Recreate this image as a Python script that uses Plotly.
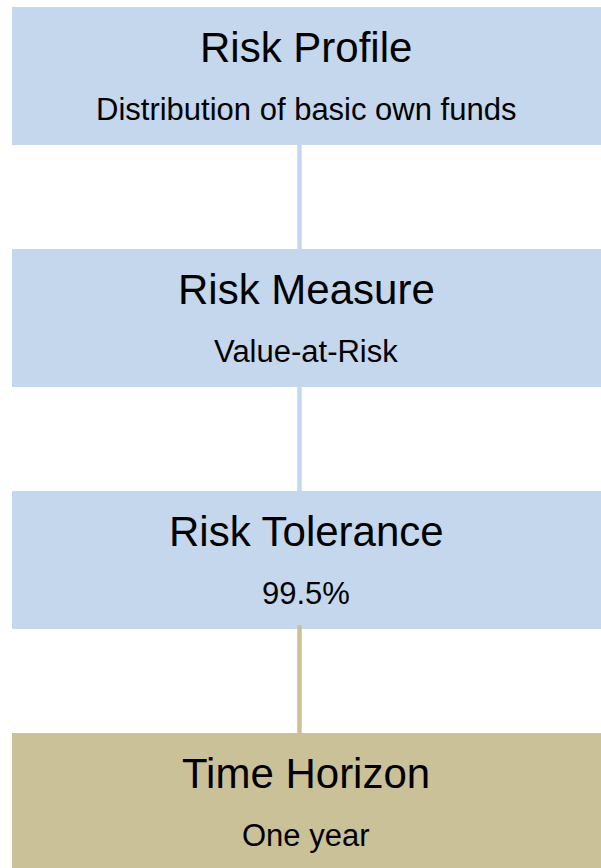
import plotly.graph_objects as go

# ---- data ----
titles = ["Risk Profile", "Risk Measure", "Risk Tolerance", "Time Horizon"]
subtitles = ["Distribution of basic own funds", "Value-at-Risk", "99.5%", "One year"]
box_colors = ["#C5D7EC", "#C5D7EC", "#C5D7EC", "#CBC199"]
connector_colors = ["#C5D7EC", "#C5D7EC", "#CBC199"]

# ---- layout constants ----
W, H = 601, 868
x0, x1 = 12, 601
top0, pitch, box_h = 7, 242, 138
title_dy, sub_dy = 40, 102
line_x = 299.5
text_x = 306

fig = go.Figure()
shapes = []
annotations = []
font_family = "Liberation Sans, Arial, sans-serif"
for i, (t, s, c) in enumerate(zip(titles, subtitles, box_colors)):
    top = top0 + i * pitch
    shapes.append(dict(type="rect", xref="x", yref="y", x0=x0, x1=x1 + 5,
                       y0=top, y1=top + box_h, fillcolor=c, line_width=0, layer="below"))
    annotations.append(dict(x=text_x, y=top + title_dy, xref="x", yref="y", text=t,
                            showarrow=False, font=dict(size=42, color="#000000", family=font_family),
                            xanchor="center", yanchor="middle"))
    annotations.append(dict(x=text_x, y=top + sub_dy, xref="x", yref="y", text=s,
                            showarrow=False, font=dict(size=31, color="#000000", family=font_family),
                            xanchor="center", yanchor="middle"))
for i, c in enumerate(connector_colors):
    y_start = top0 + i * pitch + box_h - (4 if i == 2 else 0)
    y_end = top0 + (i + 1) * pitch
    shapes.append(dict(type="line", xref="x", yref="y", x0=line_x, x1=line_x,
                       y0=y_start, y1=y_end, line=dict(color=c, width=4.5)))

fig.update_layout(
    width=W, height=H, margin=dict(l=0, r=0, t=0, b=0),
    paper_bgcolor="white", plot_bgcolor="white",
    xaxis=dict(range=[0, W], visible=False, fixedrange=True),
    yaxis=dict(range=[H, 0], visible=False, fixedrange=True),
    shapes=shapes, annotations=annotations, showlegend=False,
)
fig.write_html("out.html", config={"displayModeBar": False},
               post_script="document.body.style.margin='0';document.body.style.overflow='hidden';")
